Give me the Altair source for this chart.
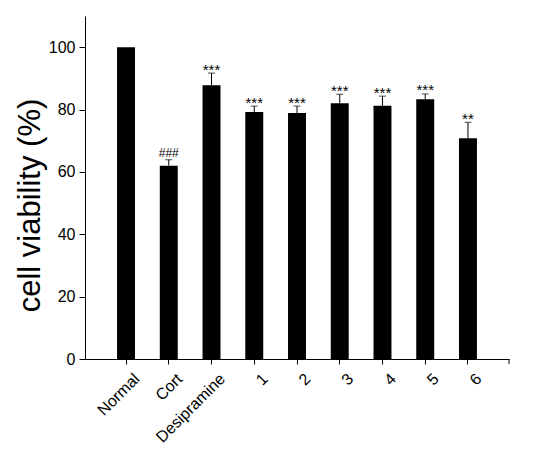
import altair as alt
import pandas as pd

categories = ["Normal", "Cort", "Desipramine", "1", "2", "3", "4", "5", "6"]
means = [100, 62.0, 87.8, 79.2, 78.9, 82.0, 81.2, 83.3, 70.8]
errors = [0, 1.9, 3.9, 1.9, 2.2, 2.9, 3.1, 1.7, 5.1]
marks = ["", "###", "***", "***", "***", "***", "***", "***", "**"]

df = pd.DataFrame({
    "group": categories,
    "mean": means,
    "err": errors,
    "mark": marks,
})
df["upper"] = df["mean"] + df["err"]

FONT = "Liberation Sans"
W, H = 424, 343

x_enc = alt.X(
    "group:N",
    sort=categories,
    scale=alt.Scale(paddingInner=0.58, paddingOuter=0.75),
    axis=alt.Axis(
        title=None,
        labelAngle=-45,
        labelAlign="right",
        labelBaseline="middle",
        labelFont=FONT,
        labelFontSize=16,
        labelColor="black",
        labelPadding=12,
        labelOffset=11,
        tickSize=5,
        tickColor="black",
        domainColor="black",
        labelOverlap=False,
    ),
)

y_scale = alt.Scale(domain=[0, 110], nice=False)

base = alt.Chart(df)

bars = base.mark_bar(color="black").encode(
    x=x_enc,
    y=alt.Y(
        "mean:Q",
        scale=y_scale,
        axis=alt.Axis(
            title="cell viability (%)",
            titleFont=FONT,
            titleFontSize=31,
            titleFontWeight="normal",
            titleColor="black",
            titleAngle=-90,
            titleAlign="center",
            titleBaseline="alphabetic",
            titleX=-46,
            titleY=189,
            values=[0, 10, 20, 30, 40, 50, 60, 70, 80, 90, 100],
            labelExpr="datum.value % 20 == 0 ? datum.label : ''",
            labelFont=FONT,
            labelFontSize=16,
            labelColor="black",
            labelPadding=4,
            tickSize={"condition": {"test": "datum.value % 20 == 0", "value": 6}, "value": 4},
            tickColor="black",
            domainColor="black",
            grid=False,
        ),
    ),
)

err_df = base.transform_filter("datum.err > 0")

rules = err_df.mark_rule(color="black", strokeWidth=1).encode(
    x=alt.X("group:N", sort=categories),
    y="mean:Q",
    y2="upper:Q",
)

caps = err_df.mark_tick(color="black", thickness=1, size=7).encode(
    x=alt.X("group:N", sort=categories),
    y="upper:Q",
)

stars = base.transform_filter("indexof(datum.mark, '*') >= 0").mark_text(
    font=FONT, fontSize=15, baseline="alphabetic", dy=1.5, color="black"
).encode(
    x=alt.X("group:N", sort=categories),
    y="upper:Q",
    text="mark:N",
)

hashes = base.transform_filter("indexof(datum.mark, '#') >= 0").mark_text(
    font=FONT, fontSize=12, baseline="alphabetic", dy=-3, color="black"
).encode(
    x=alt.X("group:N", sort=categories),
    y="upper:Q",
    text="mark:N",
)

end_tick = alt.Chart(pd.DataFrame({"k": [0]})).mark_rule(color="black", strokeWidth=1).encode(
    x=alt.value(W), y=alt.value(H), y2=alt.value(H + 5)
)

chart = alt.layer(bars, rules, caps, stars, hashes, end_tick).properties(
    width=W,
    height=H,
    autosize=alt.AutoSizeParams(type="none"),
    padding={"left": 77, "top": 8, "right": 26, "bottom": 98},
).configure_view(stroke=None).configure_axis(grid=False)

chart.save("out.html", embed_options={"renderer": "svg", "actions": False})
